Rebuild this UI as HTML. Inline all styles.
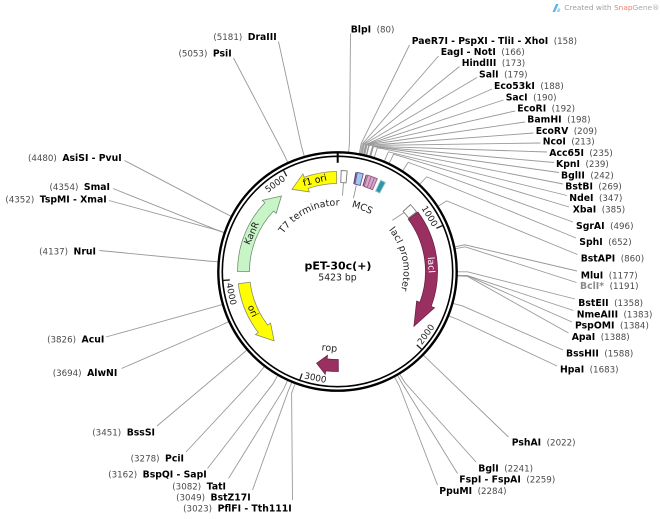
<!DOCTYPE html>
<html><head><meta charset="utf-8"><style>
html,body{margin:0;padding:0;background:#fff;}
svg{display:block;font-family:"DejaVu Sans","Liberation Sans",sans-serif;}
.b{font-weight:bold;font-size:9.3px;fill:#000;}
.n{font-size:8.7px;fill:#4a4a4a;}
.g{font-weight:bold;font-size:9.3px;fill:#8a8a8a;}
.tk{font-size:8.8px;fill:#222;}
.fl{font-size:9.3px;}
.il{font-size:9.5px;fill:#222;}
.ld polyline{fill:none;stroke:#999;stroke-width:0.9;}
</style></head><body>
<svg width="660" height="519" viewBox="0 0 660 519" xmlns="http://www.w3.org/2000/svg">
<defs><path id="a66" d="M 271.5 271.5 A 66 66 0 1 1 384.17 318.17"/></defs>
<rect width="660" height="519" fill="#fff"/>

<!-- SnapGene credit -->
<polygon points="552.5,12 556,4 558.5,4 555,12" fill="#5ab4e5"/>
<polygon points="556.5,12 558.5,7.5 560.5,9.5 559.5,12" fill="#9fd6f2"/>
<text x="564.3" y="10" font-size="7.4" fill="#a0a0a0">Created with <tspan fill="#ef7f6a">Snap</tspan><tspan fill="#a8a8a8">Gene®</tspan></text>

<!-- leader lines -->
<g class="ld">
<polyline points="348.61,152.01 349.53,142.06 350.5,33.5"/>
<polyline points="359.35,153.51 361.17,143.67 409.5,45"/>
<polyline points="360.44,153.71 362.35,143.90 438.5,56"/>
<polyline points="361.39,153.90 363.38,144.10 459.5,66.5"/>
<polyline points="362.21,154.07 364.27,144.29 477,77.5"/>
<polyline points="363.43,154.34 365.59,144.57 492,89"/>
<polyline points="363.70,154.40 365.89,144.64 503.5,100"/>
<polyline points="363.98,154.46 366.18,144.70 515,111"/>
<polyline points="364.79,154.64 367.06,144.91 525,122"/>
<polyline points="366.27,155.00 368.67,145.29 533.5,133"/>
<polyline points="366.81,155.14 369.26,145.44 540.5,143"/>
<polyline points="369.77,155.92 372.46,146.29 547,152"/>
<polyline points="370.31,156.07 373.04,146.45 554,162.5"/>
<polyline points="370.71,156.19 373.47,146.58 559,172.5"/>
<polyline points="374.30,157.28 377.36,147.76 563,184"/>
<polyline points="384.45,161.07 388.36,151.86 567,195.5"/>
<polyline points="389.27,163.24 393.59,154.22 569,207"/>
<polyline points="402.73,170.77 408.16,162.38 573,222"/>
<polyline points="419.77,184.14 426.63,176.86 576,238"/>
<polyline points="438.24,206.30 446.64,200.87 577.5,254.5"/>
<polyline points="454.94,246.82 464.72,244.77 577,271"/>
<polyline points="455.32,248.73 465.14,246.83 576.5,282.5"/>
<polyline points="457.5,271.81 467.50,271.84 575,299"/>
<polyline points="457.44,275.29 467.44,275.60 573.5,310.5"/>
<polyline points="457.44,275.43 467.43,275.75 572,322"/>
<polyline points="457.42,275.98 467.41,276.36 568.5,333"/>
<polyline points="453.18,303.40 462.82,306.06 563,350"/>
<polyline points="448.97,315.92 458.26,319.62 557,366"/>
<polyline points="423.47,355.22 430.64,362.19 508.5,437"/>
<polyline points="399.73,374.10 404.91,382.66 476,462"/>
<polyline points="397.56,375.39 402.57,384.04 457.5,473.5"/>
<polyline points="394.54,377.08 399.29,385.88 437.5,485"/>
<polyline points="304.29,156.19 301.53,146.58 278.5,41.5"/>
<polyline points="287.62,162.36 283.47,153.26 233.5,58"/>
<polyline points="230.96,216.28 222.08,211.67 124.5,160.5"/>
<polyline points="224.06,232.37 214.61,229.10 113,188.5"/>
<polyline points="223.97,232.63 214.51,229.39 109,200.5"/>
<polyline points="217.89,261.81 207.92,261.01 99.5,250.5"/>
<polyline points="222.16,304.61 212.55,307.37 106,337"/>
<polyline points="228.55,321.79 219.47,325.99 121.5,368.5"/>
<polyline points="246.81,350.09 239.26,356.64 157,426"/>
<polyline points="264.28,366.57 258.18,374.50 186,452"/>
<polyline points="277.67,375.52 272.68,384.19 207.5,468.5"/>
<polyline points="287.56,380.61 283.39,389.71 228.5,478.5"/>
<polyline points="291.76,382.44 287.94,391.68 252.5,490"/>
<polyline points="295.13,383.77 291.60,393.13 292.5,500"/>
</g>

<!-- right labels -->
<text x="350.7" y="32.7"><tspan class="b">BlpI</tspan><tspan class="n" dx="5.5">(80)</tspan></text>
<text x="411.7" y="44.1"><tspan class="b">PaeR7I - PspXI - TliI - XhoI</tspan><tspan class="n" dx="5.5">(158)</tspan></text>
<text x="440.7" y="55.1"><tspan class="b">EagI - NotI</tspan><tspan class="n" dx="5.5">(166)</tspan></text>
<text x="461.7" y="66.1"><tspan class="b">HindIII</tspan><tspan class="n" dx="5.5">(173)</tspan></text>
<text x="479" y="77.4"><tspan class="b">SalI</tspan><tspan class="n" dx="5.5">(179)</tspan></text>
<text x="494" y="89.1"><tspan class="b">Eco53kI</tspan><tspan class="n" dx="5.5">(188)</tspan></text>
<text x="505.7" y="100.4"><tspan class="b">SacI</tspan><tspan class="n" dx="5.5">(190)</tspan></text>
<text x="517.3" y="111.7"><tspan class="b">EcoRI</tspan><tspan class="n" dx="5.5">(192)</tspan></text>
<text x="527.3" y="122.7"><tspan class="b">BamHI</tspan><tspan class="n" dx="5.5">(198)</tspan></text>
<text x="535.7" y="134.1"><tspan class="b">EcoRV</tspan><tspan class="n" dx="5.5">(209)</tspan></text>
<text x="542.7" y="144.7"><tspan class="b">NcoI</tspan><tspan class="n" dx="5.5">(213)</tspan></text>
<text x="549.3" y="156.1"><tspan class="b">Acc65I</tspan><tspan class="n" dx="5.5">(235)</tspan></text>
<text x="556" y="167.1"><tspan class="b">KpnI</tspan><tspan class="n" dx="5.5">(239)</tspan></text>
<text x="561" y="178.4"><tspan class="b">BglII</tspan><tspan class="n" dx="5.5">(242)</tspan></text>
<text x="565.3" y="189.7"><tspan class="b">BstBI</tspan><tspan class="n" dx="5.5">(269)</tspan></text>
<text x="569.3" y="201.1"><tspan class="b">NdeI</tspan><tspan class="n" dx="5.5">(347)</tspan></text>
<text x="572.7" y="212.4"><tspan class="b">XbaI</tspan><tspan class="n" dx="5.5">(385)</tspan></text>
<text x="576" y="229.1"><tspan class="b">SgrAI</tspan><tspan class="n" dx="5.5">(496)</tspan></text>
<text x="579.3" y="245.1"><tspan class="b">SphI</tspan><tspan class="n" dx="5.5">(652)</tspan></text>
<text x="580.7" y="261.7"><tspan class="b">BstAPI</tspan><tspan class="n" dx="5.5">(860)</tspan></text>
<text x="580.7" y="278.4"><tspan class="b">MluI</tspan><tspan class="n" dx="5.5">(1177)</tspan></text>
<text x="580" y="289.1"><tspan class="g">BclI*</tspan><tspan class="n" dx="5.5">(1191)</tspan></text>
<text x="578.3" y="305.9"><tspan class="b">BstEII</tspan><tspan class="n" dx="5.5">(1358)</tspan></text>
<text x="576.7" y="317.4"><tspan class="b">NmeAIII</tspan><tspan class="n" dx="5.5">(1383)</tspan></text>
<text x="575" y="328.7"><tspan class="b">PspOMI</tspan><tspan class="n" dx="5.5">(1384)</tspan></text>
<text x="571.7" y="340.1"><tspan class="b">ApaI</tspan><tspan class="n" dx="5.5">(1388)</tspan></text>
<text x="566" y="356.7"><tspan class="b">BssHII</tspan><tspan class="n" dx="5.5">(1588)</tspan></text>
<text x="560" y="372.7"><tspan class="b">HpaI</tspan><tspan class="n" dx="5.5">(1683)</tspan></text>
<text x="511.7" y="445.4"><tspan class="b">PshAI</tspan><tspan class="n" dx="5.5">(2022)</tspan></text>
<text x="478.3" y="471.7"><tspan class="b">BglI</tspan><tspan class="n" dx="5.5">(2241)</tspan></text>
<text x="459.3" y="482.7"><tspan class="b">FspI - FspAI</tspan><tspan class="n" dx="5.5">(2259)</tspan></text>
<text x="439.3" y="494.1"><tspan class="b">PpuMI</tspan><tspan class="n" dx="5.5">(2284)</tspan></text>

<!-- left labels -->
<text x="276.7" y="40.1" text-anchor="end"><tspan class="n">(5181)</tspan><tspan class="b" dx="5.5">DraIII</tspan></text>
<text x="231.7" y="56.7" text-anchor="end"><tspan class="n">(5053)</tspan><tspan class="b" dx="5.5">PsiI</tspan></text>
<text x="121.7" y="161.1" text-anchor="end"><tspan class="n">(4480)</tspan><tspan class="b" dx="5.5">AsiSI - PvuI</tspan></text>
<text x="110" y="190.1" text-anchor="end"><tspan class="n">(4354)</tspan><tspan class="b" dx="5.5">SmaI</tspan></text>
<text x="106.7" y="202.4" text-anchor="end"><tspan class="n">(4352)</tspan><tspan class="b" dx="5.5">TspMI - XmaI</tspan></text>
<text x="96" y="254.4" text-anchor="end"><tspan class="n">(4137)</tspan><tspan class="b" dx="5.5">NruI</tspan></text>
<text x="104.3" y="342.4" text-anchor="end"><tspan class="n">(3826)</tspan><tspan class="b" dx="5.5">AcuI</tspan></text>
<text x="117.3" y="376.1" text-anchor="end"><tspan class="n">(3694)</tspan><tspan class="b" dx="5.5">AlwNI</tspan></text>
<text x="155" y="435.7" text-anchor="end"><tspan class="n">(3451)</tspan><tspan class="b" dx="5.5">BssSI</tspan></text>
<text x="184" y="461.7" text-anchor="end"><tspan class="n">(3278)</tspan><tspan class="b" dx="5.5">PciI</tspan></text>
<text x="206.7" y="477.7" text-anchor="end"><tspan class="n">(3162)</tspan><tspan class="b" dx="5.5">BspQI - SapI</tspan></text>
<text x="226" y="489.4" text-anchor="end"><tspan class="n">(3082)</tspan><tspan class="b" dx="5.5">TatI</tspan></text>
<text x="250.7" y="500.7" text-anchor="end"><tspan class="n">(3049)</tspan><tspan class="b" dx="5.5">BstZ17I</tspan></text>
<text x="291.7" y="511.7" text-anchor="end"><tspan class="n">(3023)</tspan><tspan class="b" dx="5.5">PflFI - Tth111I</tspan></text>

<!-- backbone -->
<circle cx="337.5" cy="271.5" r="119.2" fill="none" stroke="#000" stroke-width="2.4"/>
<circle cx="337.5" cy="271.5" r="115.2" fill="none" stroke="#000" stroke-width="1.6"/>
<line x1="337.7" y1="152.3" x2="337.7" y2="162.8" stroke="#000" stroke-width="2"/>
<g stroke="#222" stroke-width="1.3">
<line x1="442.41" y1="225.62" x2="436.46" y2="228.23"/>
<line x1="421.56" y1="349.25" x2="416.78" y2="344.84"/>
<line x1="299.94" y1="379.67" x2="302.07" y2="373.53"/>
<line x1="223.35" y1="280.42" x2="229.83" y2="279.92"/>
<line x1="283.60" y1="170.48" x2="286.66" y2="176.21"/>
</g>
<g class="tk" text-anchor="middle">
<text transform="translate(337.5 271.5) rotate(59)" y="-104.5">1000</text>
<text transform="translate(337.5 271.5) rotate(-54.6)" y="111.5">2000</text>
<text transform="translate(337.5 271.5) rotate(11.75)" y="111.5">3000</text>
<text transform="translate(337.5 271.5) rotate(78.1)" y="111.5">4000</text>
<text transform="translate(337.5 271.5) rotate(-35.5)" y="-104.5">5000</text>
</g>

<!-- features -->
<path d="M 237.5 271.5 A 100 100 0 0 1 264.86 202.77 L 262.32 200.37 L 281.46 196.03 L 276.12 213.42 L 273.58 211.02 A 88 88 0 0 0 249.5 271.5 Z" fill="#c8f5c8" stroke="#6e8f6e" stroke-width="0.8"/>
<path d="M 238.25 283.69 A 100 100 0 0 0 258.27 332.52 L 255.50 334.65 L 274.12 340.92 L 270.55 323.06 L 267.78 325.19 A 88 88 0 0 1 250.16 282.22 Z" fill="#ffff00" stroke="#8c8c6a" stroke-width="0.8"/>
<path d="M 336.63 171.50 A 100 100 0 0 0 304.12 177.24 L 302.95 173.94 L 291.93 189.29 L 309.29 191.85 L 308.12 188.55 A 88 88 0 0 1 336.73 183.50 Z" fill="#ffff00" stroke="#8c8c6a" stroke-width="0.8"/>
<path d="M 417.89 212.02 A 100 100 0 0 1 431.17 306.52 L 434.44 307.75 L 413.93 326.22 L 416.65 301.09 L 419.93 302.32 A 88 88 0 0 0 408.24 219.16 Z" fill="#9a2f61" stroke="#6b2247" stroke-width="0.8"/>
<path d="M 338.37 371.50 A 100 100 0 0 1 325.66 370.80 L 325.25 374.27 L 316.67 363.16 L 327.50 355.41 L 327.08 358.88 A 88 88 0 0 0 338.27 359.50 Z" fill="#9a2f61" stroke="#6b2247" stroke-width="0.8"/>
<path d="M 341.20 170.57 A 101 101 0 0 1 347.18 170.96 L 346.03 182.91 A 89 89 0 0 0 340.76 182.56 Z" fill="#fff" stroke="#777" stroke-width="0.9"/>
<path d="M 410.49 204.62 A 99 99 0 0 1 416.57 211.92 L 408.58 217.94 A 89 89 0 0 0 403.12 211.37 Z" fill="#fff" stroke="#777" stroke-width="0.9"/>
<!-- MCS -->
<line x1="356.08" y1="172.22" x2="353.87" y2="184.02" stroke="#5a3a7a" stroke-width="1.2"/>
<path d="M 357.29 172.46 A 101 101 0 0 1 363.30 173.85 L 360.24 185.45 A 89 89 0 0 0 354.94 184.23 Z" fill="#9dc8f2" stroke="#6a4f8a" stroke-width="0.9"/>
<line x1="366.35" y1="174.71" x2="362.93" y2="186.21" stroke="#7a3a6a" stroke-width="1.2"/>
<path d="M 367.70 175.12 A 101 101 0 0 1 377.29 178.67 L 372.56 189.70 A 89 89 0 0 0 364.11 186.57 Z" fill="#d8a6c9" stroke="#8a5a80" stroke-width="0.9"/>
<line x1="371.21" y1="176.29" x2="367.21" y2="187.60" stroke="#a0608f" stroke-width="0.9"/>
<line x1="374.52" y1="177.53" x2="370.12" y2="188.69" stroke="#a0608f" stroke-width="0.9"/>
<path d="M 380.66 180.19 A 101 101 0 0 1 385.38 182.57 L 379.69 193.14 A 89 89 0 0 0 375.54 191.04 Z" fill="#2f95a8" stroke="#9cc" stroke-width="0.9"/>

<!-- feature labels -->
<g class="fl" text-anchor="middle">
<text transform="translate(337.5 271.5) rotate(-14)" y="-91" fill="#000">f1 ori</text>
<text transform="translate(337.5 271.5) rotate(-66)" y="-91" fill="#1a1a1a">KanR</text>
<text transform="translate(337.5 271.5) rotate(65)" y="96.5" fill="#000">ori</text>
<text transform="translate(337.5 271.5) rotate(86)" y="-91" fill="#fff">lacI</text>
</g>
<g stroke="#888" stroke-width="0.8">
<line x1="343.40" y1="182.70" x2="342.54" y2="195.67"/>
<line x1="356.25" y1="185.52" x2="353.48" y2="198.22"/>
<line x1="404.16" y1="212.53" x2="392.35" y2="220.35"/>
</g>
<text class="il" text-anchor="end"><textPath href="#a66" startOffset="105.4">T7 terminator</textPath></text>
<text class="il" text-anchor="middle"><textPath href="#a66" startOffset="127.86">MCS</textPath></text>
<text class="il"><textPath href="#a66" startOffset="162.2">lacI promoter</textPath></text>
<text class="il" transform="translate(329.14 351.06) rotate(6)" text-anchor="middle">rop</text>

<!-- center -->
<text x="338" y="269.5" text-anchor="middle" font-weight="bold" font-size="11" fill="#000">pET-30c(+)</text>
<text x="337.5" y="280.5" text-anchor="middle" font-size="9.3" fill="#222">5423 bp</text>
</svg>
</body></html>
